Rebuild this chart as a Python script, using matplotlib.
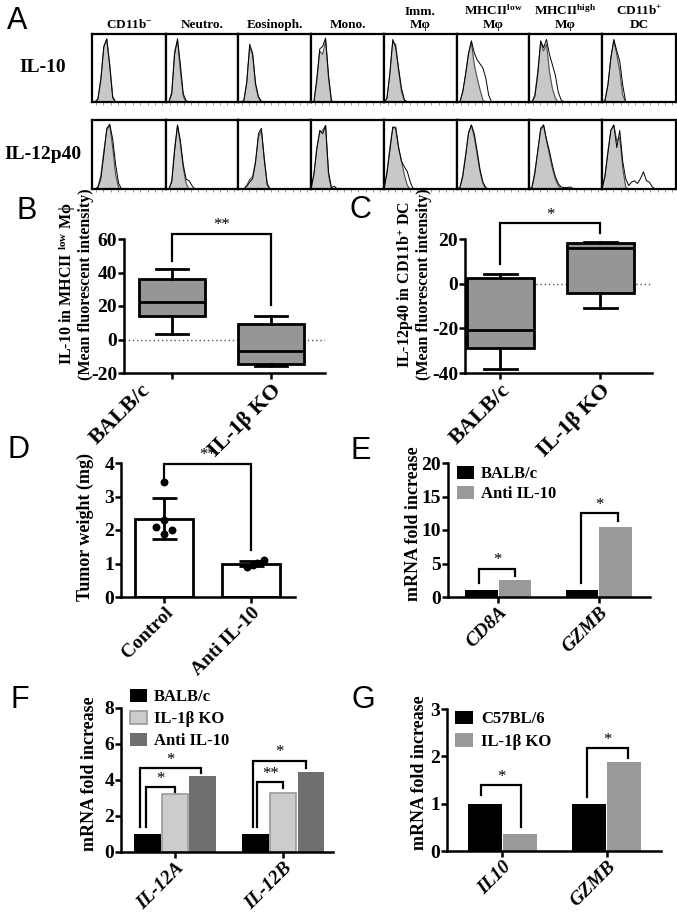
import numpy as np
import matplotlib
matplotlib.use("Agg")
import matplotlib.pyplot as plt
from matplotlib.transforms import ScaledTranslation

plt.rcParams['font.family'] = ['Liberation Serif', 'DejaVu Serif']
plt.rcParams['font.weight'] = 'bold'
plt.rcParams['axes.unicode_minus'] = False
plt.rcParams['mathtext.fontset'] = 'custom'
plt.rcParams['mathtext.rm'] = 'Liberation Serif:bold'
plt.rcParams['mathtext.bf'] = 'Liberation Serif:bold'
plt.rcParams['mathtext.it'] = 'Liberation Serif:italic:bold'

W, H = 677, 914

# ---- panel A: flow histograms (channel grid 0..72, % of box height) ----
cell_types = ['CD11b$^{-}$', 'Neutro.', 'Eosinoph.', 'Mono.', 'Imm.\nM\u03c6',
              'MHCII$^{\\mathrm{low}}$\nM\u03c6', 'MHCII$^{\\mathrm{high}}$\nM\u03c6',
              'CD11b$^{+}$\nDC']
row_labels = ['IL-10', 'IL-12p40']
hist_x = [0, 4, 8, 12, 16, 20, 24, 28, 32, 36, 40, 44, 48, 52, 56, 60, 64, 68, 72]

il10_filled = [
    [0, 0, 5, 35, 80, 92, 55, 8, 0, 0, 0, 0, 0, 0, 0, 0, 0, 0, 0],
    [0, 0, 15, 75, 90, 45, 8, 0, 0, 0, 0, 0, 0, 0, 0, 0, 0, 0, 0],
    [0, 0, 2, 30, 80, 70, 25, 6, 0, 0, 0, 0, 0, 0, 0, 0, 0, 0, 0],
    [0, 0, 30, 75, 70, 90, 35, 0, 0, 0, 0, 0, 0, 0, 0, 0, 0, 0, 0],
    [0, 5, 40, 88, 85, 45, 15, 2, 0, 0, 0, 0, 0, 0, 0, 0, 0, 0, 0],
    [0, 0, 15, 40, 70, 88, 55, 35, 18, 3, 0, 0, 0, 0, 0, 0, 0, 0, 0],
    [0, 0, 10, 45, 88, 75, 85, 45, 20, 6, 0, 0, 0, 0, 0, 0, 0, 0, 0],
    [0, 2, 25, 65, 90, 70, 45, 10, 0, 0, 0, 0, 0, 0, 0, 0, 0, 0, 0],
]
il10_open = [
    [0, 0, 4, 33, 82, 93, 52, 6, 0, 0, 0, 0, 0, 0, 0, 0, 0, 0, 0],
    [0, 0, 12, 70, 93, 55, 12, 2, 0, 0, 0, 0, 0, 0, 0, 0, 0, 0, 0],
    [0, 0, 2, 28, 85, 72, 28, 8, 1, 0, 0, 0, 0, 0, 0, 0, 0, 0, 0],
    [0, 0, 35, 78, 82, 94, 40, 2, 0, 0, 0, 0, 0, 0, 0, 0, 0, 0, 0],
    [0, 5, 42, 92, 80, 50, 20, 3, 0, 0, 0, 0, 0, 0, 0, 0, 0, 0, 0],
    [0, 0, 15, 42, 72, 90, 72, 62, 56, 50, 35, 10, 0, 0, 0, 0, 0, 0, 0],
    [0, 0, 8, 40, 90, 80, 92, 70, 55, 40, 15, 3, 0, 0, 0, 0, 0, 0, 0],
    [0, 2, 25, 65, 92, 75, 60, 25, 0, 0, 0, 0, 0, 0, 0, 0, 0, 0, 0],
]
il12_filled = [
    [0, 0, 3, 20, 55, 85, 92, 60, 20, 2, 0, 0, 0, 0, 0, 0, 0, 0, 0],
    [0, 0, 12, 60, 92, 65, 30, 8, 0, 0, 0, 0, 0, 0, 0, 0, 0, 0, 0],
    [0, 0, 0, 5, 14, 18, 40, 75, 85, 45, 8, 0, 0, 0, 0, 0, 0, 0, 0],
    [0, 20, 60, 82, 85, 92, 20, 0, 0, 0, 0, 0, 0, 0, 0, 0, 0, 0, 0],
    [0, 25, 60, 88, 90, 60, 40, 20, 5, 0, 0, 0, 0, 0, 0, 0, 0, 0, 0],
    [0, 2, 20, 50, 80, 92, 75, 50, 25, 8, 0, 0, 0, 0, 0, 0, 0, 0, 0],
    [0, 2, 25, 55, 85, 92, 70, 50, 30, 15, 5, 0, 0, 0, 0, 0, 0, 0, 0],
    [0, 20, 55, 85, 92, 70, 75, 30, 3, 0, 0, 0, 0, 0, 0, 0, 0, 0, 0],
]
il12_open = [
    [0, 0, 2, 15, 50, 88, 94, 72, 35, 8, 0, 0, 0, 0, 0, 0, 0, 0, 0],
    [0, 0, 10, 55, 93, 70, 35, 14, 12, 5, 0, 0, 0, 0, 0, 0, 0, 0, 0],
    [0, 0, 0, 4, 10, 15, 38, 80, 88, 42, 6, 0, 0, 0, 0, 0, 0, 0, 0],
    [0, 22, 58, 85, 80, 92, 25, 2, 4, 0, 0, 0, 0, 0, 0, 0, 0, 0, 0],
    [0, 22, 55, 90, 88, 60, 40, 32, 25, 10, 0, 0, 0, 0, 0, 0, 0, 0, 0],
    [0, 2, 18, 48, 82, 93, 80, 55, 28, 10, 2, 0, 0, 0, 0, 0, 0, 0, 0],
    [0, 2, 22, 55, 88, 93, 72, 55, 35, 18, 8, 3, 2, 2, 3, 1, 0, 0, 0],
    [0, 18, 52, 85, 93, 60, 85, 40, 15, 5, 10, 12, 8, 15, 25, 12, 10, 3, 0],
]

# ---- panel B / C: box plots ----
bc_groups = ['BALB/c', 'IL-1\u03b2 KO']
b_whislo = [3, -16]
b_q1 = [14, -14.5]
b_med = [22.5, -7]
b_q3 = [36, 9.5]
b_whishi = [42, 14]

c_whislo = [-38, -10.7]
c_q1 = [-28.7, -4.2]
c_med = [-20.9, 16.1]
c_q3 = [2.7, 18]
c_whishi = [4.5, 18.5]

# ---- panel D: tumor weight ----
d_groups = ['Control', 'Anti IL-10']
d_control = [3.42, 2.29, 2.09, 2.01, 1.89]
d_anti = [0.9, 0.97, 1.02, 1.11]
d_control_jit = [0, 0, -0.09, 0.09, 0]
d_anti_jit = [-0.05, 0.02, 0.07, 0.15]

# ---- panel E ----
e_genes = ['CD8A', 'GZMB']
e_balb = [1, 1]
e_anti = [2.5, 10.4]

# ---- panel F ----
f_genes = ['IL-12A', 'IL-12B']
f_balb = [1, 1]
f_ko = [3.2, 3.29]
f_anti = [4.22, 4.47]

# ---- panel G ----
g_genes = ['IL10', 'GZMB']
g_c57 = [1, 1]
g_ko = [0.35, 1.87]

# significance brackets: x_left, x_right, y_left, y_top, y_right, label
b_brackets = [(0, 1, 47, 63, 20.6, '**')]
c_brackets = [(0, 1, 8.7, 27, 22.5, '*')]
d_brackets = [(0, 1, 3.55, 3.97, 1.39, '**')]
e_brackets = [(-0.19, 0.17, 2.1, 4.2, 3.1, '*'), (0.82, 1.19, 2.1, 12.5, 11.4, '*')]
f_brackets = [(-0.27, 0.0, 1.4, 3.6, 3.35, '*'), (-0.32, 0.24, 1.4, 4.65, 4.41, '*'),
              (0.76, 1.0, 1.4, 3.87, 3.53, '**'), (0.716, 1.21, 1.4, 5.08, 4.65, '*')]
g_brackets = [(-0.2, 0.18, 1.18, 1.39, 0.51, '*'), (0.81, 1.2, 1.15, 2.17, 1.96, '*')]


def px_axes(fig, x0, y0, x1, y1):
    return fig.add_axes([x0 / W, 1 - y1 / H, (x1 - x0) / W, (y1 - y0) / H])


def ftext(fig, x, y, s, **kw):
    return fig.text(x / W, 1 - y / H, s, **kw)


def style(ax, fs):
    ax.spines['top'].set_visible(False)
    ax.spines['right'].set_visible(False)
    ax.spines['left'].set_linewidth(1.8)
    ax.spines['bottom'].set_linewidth(1.8)
    ax.tick_params(direction='out', length=4, width=1.8, labelsize=fs, pad=1)


def xlabels(ax, labels, fs, italic=False):
    return ax.set_xticklabels(labels, rotation=45, ha='right', rotation_mode='anchor',
                              fontsize=fs, fontstyle='italic' if italic else 'normal')


def brackets(ax, items):
    for x0, x1, y0, yt, y1, lab in items:
        ax.plot([x0, x0, x1, x1], [y0, yt, yt, y1], color='black', lw=1.6,
                clip_on=False, solid_joinstyle='miter')
        ax.annotate(lab, ((x0 + x1) / 2, yt), xytext=(0, 0.5), textcoords='offset points',
                    ha='center', va='bottom', fontsize=12, fontweight='normal',
                    annotation_clip=False)


fig = plt.figure(figsize=(W / 100, H / 100), dpi=100)

# ---------------- panel A ----------------
edges = [92, 166, 238, 311, 384, 457, 529, 602, 676]
rows = [(34, 102, il10_filled, il10_open), (120, 189, il12_filled, il12_open)]
for r, (top, bot, filled, opened) in enumerate(rows):
    for i in range(8):
        ax = px_axes(fig, edges[i], top, edges[i + 1], bot)
        ax.fill_between(hist_x, filled[i], color='#c8c8c8', lw=0)
        ax.plot(hist_x, filled[i], color='#505050', lw=0.8)
        ax.plot(hist_x, opened[i], color='black', lw=0.7)
        ax.set_xlim(0, 100)
        ax.set_ylim(0, 100)
        for s in ax.spines.values():
            s.set_linewidth(1.6)
        ax.set_xticks([5, 15, 25, 35, 45, 55, 65, 75, 85, 95])
        ax.set_xticklabels([])
        ax.set_yticks([])
        ax.tick_params(axis='x', direction='out', length=2, width=0.6, colors='#888888')
    ftext(fig, 43, (top + bot) / 2, row_labels[r], ha='center', va='center', fontsize=14)

for i, name in enumerate(cell_types):
    ftext(fig, (edges[i] + edges[i + 1]) / 2, 31, name, ha='center', va='bottom',
          fontsize=9.5, linespacing=1.1)

# ---------------- panel B / C ----------------
def box_panel(rect, whislo, q1, med, q3, whishi, ylim, yticks, xlim):
    ax = px_axes(fig, *rect)
    stats = []
    for k in range(len(bc_groups)):
        stats.append(dict(med=med[k], q1=q1[k], q3=q3[k], whislo=whislo[k], whishi=whishi[k]))
    ax.bxp(stats, positions=[0, 1], widths=0.67, showfliers=False, patch_artist=True,
           capwidths=0.33,
           boxprops=dict(facecolor='#969696', edgecolor='black', linewidth=2),
           medianprops=dict(color='black', linewidth=2),
           whiskerprops=dict(color='black', linewidth=2),
           capprops=dict(color='black', linewidth=2), zorder=3)
    ax.axhline(0, color='#555555', lw=1, ls=(0, (1, 2)), zorder=1)
    ax.set_ylim(*ylim)
    ax.set_yticks(yticks)
    ax.set_xlim(*xlim)
    style(ax, 14)
    ax.set_xticks([0, 1])
    return ax, xlabels(ax, bc_groups, 16)


axB, b_lbls = box_panel((124, 239, 325, 373), b_whislo, b_q1, b_med, b_q3, b_whishi,
                        (-20, 60), [-20, 0, 20, 40, 60], (-0.485, 1.545))
# in the source the first label of B sits left of its box
b_lbls[0].set_transform(b_lbls[0].get_transform() +
                        ScaledTranslation(-0.32, 0, fig.dpi_scale_trans))
brackets(axB, b_brackets)
ftext(fig, 67, 284, 'IL-10 in MHCII $^{\\mathrm{low}}$ M\u03d5', rotation=90,
      ha='center', va='center', fontsize=11.5)
ftext(fig, 86, 284, '(Mean fluorescent intensity)', rotation=90,
      ha='center', va='center', fontsize=11.5)

axC, c_lbls = box_panel((465, 239, 652, 373), c_whislo, c_q1, c_med, c_q3, c_whishi,
                        (-40, 20), [-40, -20, 0, 20], (-0.35, 1.52))
brackets(axC, c_brackets)
ftext(fig, 406, 284, 'IL-12p40 in CD11b$^{+}$ DC', rotation=90,
      ha='center', va='center', fontsize=11.5)
ftext(fig, 424, 284, '(Mean fluorescent intensity)', rotation=90,
      ha='center', va='center', fontsize=11.5)

# ---------------- panel D ----------------
axD = px_axes(fig, 121, 463, 295, 597)
d_sets = [d_control, d_anti]
d_jits = [d_control_jit, d_anti_jit]
d_mean = [np.mean(v) for v in d_sets]
d_sd = [np.std(v, ddof=1) for v in d_sets]
axD.bar([0, 1], d_mean, width=0.67, color='white', edgecolor='black', lw=2, zorder=2)
axD.errorbar([0, 1], d_mean, yerr=d_sd, fmt='none', ecolor='black', elinewidth=2,
             capsize=9, capthick=2, zorder=3)
for k in range(2):
    axD.scatter(np.array(d_jits[k]) + k, d_sets[k], s=22, color='black', zorder=4)
axD.set_ylim(0, 4)
axD.set_yticks([0, 1, 2, 3, 4])
axD.set_xlim(-0.5, 1.51)
style(axD, 14)
axD.set_xticks([0, 1])
xlabels(axD, d_groups, 14)
brackets(axD, d_brackets)
ftext(fig, 85, 527, 'Tumor weight (mg)', rotation=90, ha='center', va='center', fontsize=13)

# ---------------- panel E ----------------
axE = px_axes(fig, 448, 463, 650, 597)
xe = np.arange(len(e_genes))
axE.bar(xe - 0.168, e_balb, width=0.325, color='black', label='BALB/c')
axE.bar(xe + 0.168, e_anti, width=0.325, color='#999999', label='Anti IL-10')
axE.set_ylim(0, 20)
axE.set_yticks([0, 5, 10, 15, 20])
axE.set_xlim(-0.5, 1.51)
style(axE, 14)
axE.set_xticks(xe)
xlabels(axE, e_genes, 14, italic=True)
brackets(axE, e_brackets)
ftext(fig, 413, 524, 'mRNA fold increase', rotation=90, ha='center', va='center', fontsize=13)
axE.legend(loc='upper left', bbox_to_anchor=(457 / W, 1 - 466 / H), bbox_transform=fig.transFigure,
           frameon=False, fontsize=12, borderpad=0, borderaxespad=0, handlelength=1.0,
           handleheight=0.85, handletextpad=0.45, labelspacing=0.2)

# ---------------- panel F ----------------
axF = px_axes(fig, 121, 708, 333, 852)
xf = np.arange(len(f_genes))
axF.bar(xf - 0.255, f_balb, width=0.245, color='black', label='BALB/c')
axF.bar(xf, f_ko, width=0.245, color='#cccccc', edgecolor='#9a9a9a', lw=1.2, label='IL-1\u03b2 KO')
axF.bar(xf + 0.255, f_anti, width=0.245, color='#6f6f6f', label='Anti IL-10')
axF.set_ylim(0, 8)
axF.set_yticks([0, 2, 4, 6, 8])
axF.set_xlim(-0.5, 1.46)
style(axF, 14)
axF.set_xticks(xf)
xlabels(axF, f_genes, 14, italic=True)
brackets(axF, f_brackets)
ftext(fig, 89, 774, 'mRNA fold increase', rotation=90, ha='center', va='center', fontsize=13)
axF.legend(loc='upper left', bbox_to_anchor=(130 / W, 1 - 689 / H), bbox_transform=fig.transFigure,
           frameon=False, fontsize=12, borderpad=0, borderaxespad=0, handlelength=1.0,
           handleheight=0.8, handletextpad=0.45, labelspacing=0.35)

# ---------------- panel G ----------------
axG = px_axes(fig, 447, 709, 661, 851)
xg = np.arange(len(g_genes))
axG.bar(xg - 0.168, g_c57, width=0.33, color='black', label='C57BL/6')
axG.bar(xg + 0.168, g_ko, width=0.33, color='#999999', label='IL-1\u03b2 KO')
axG.set_ylim(0, 3)
axG.set_yticks([0, 1, 2, 3])
axG.set_xlim(-0.53, 1.52)
style(axG, 14)
axG.set_xticks(xg)
xlabels(axG, g_genes, 14, italic=True)
brackets(axG, g_brackets)
ftext(fig, 420, 773, 'mRNA fold increase', rotation=90, ha='center', va='center', fontsize=13)
axG.legend(loc='upper left', bbox_to_anchor=(455 / W, 1 - 711 / H), bbox_transform=fig.transFigure,
           frameon=False, fontsize=12, borderpad=0, borderaxespad=0, handlelength=1.1,
           handleheight=0.85, handletextpad=0.45, labelspacing=0.35)

# ---------------- panel letters ----------------
for lab, x, y in [('A', 17, 21), ('B', 27, 211), ('C', 360, 210), ('D', 19, 450),
                  ('E', 361, 451), ('F', 20, 700), ('G', 363, 700)]:
    ftext(fig, x, y, lab, ha='center', va='center', fontsize=22, fontweight='normal',
          family=['Liberation Sans', 'DejaVu Sans'])

fig.savefig('out.png', dpi=100)
